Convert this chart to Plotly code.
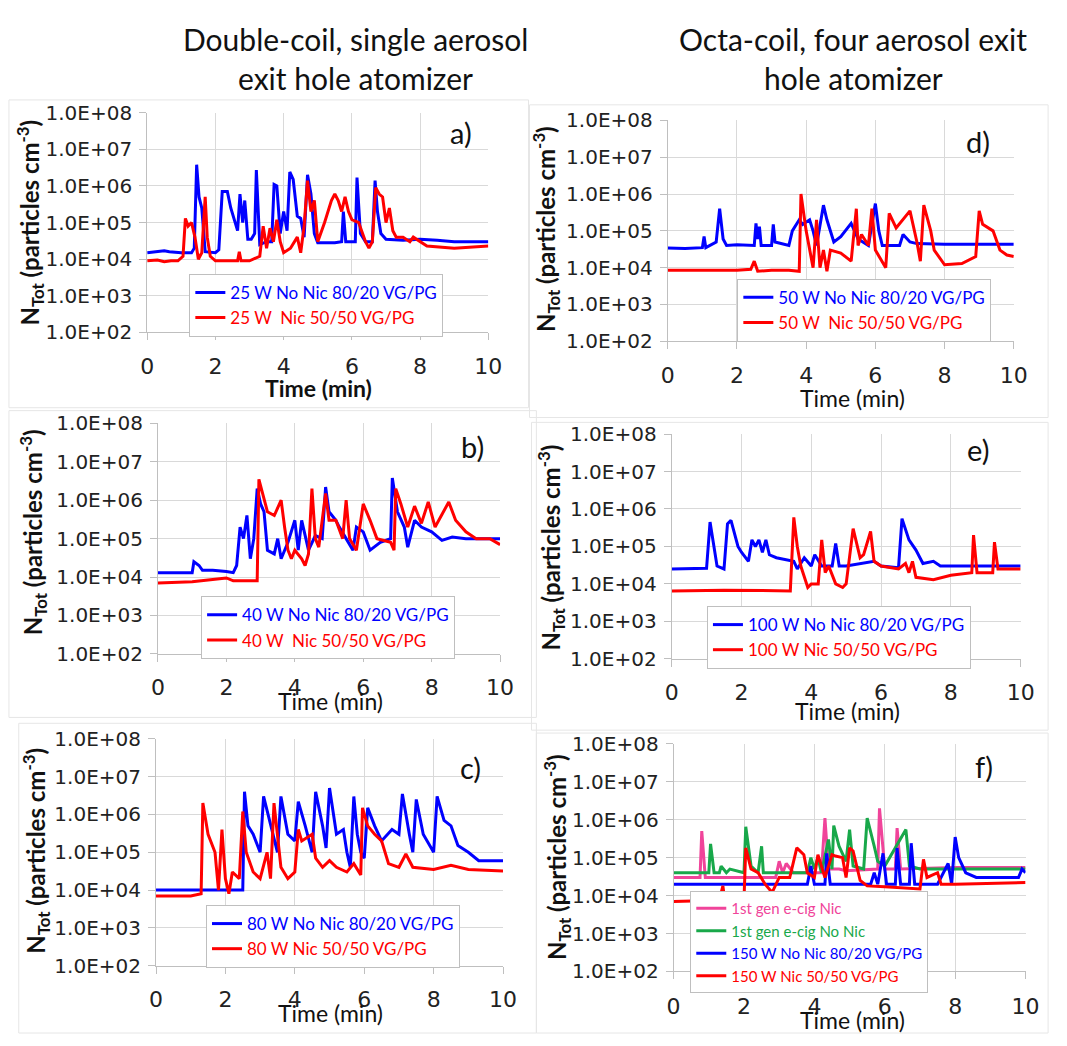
import plotly.graph_objects as go

W, H = 1067, 1046

# ---------------- data (time in min, N_Tot in particles cm^-3) ----------------
a_blue_t = [0, 0.2, 0.3, 0.5, 0.65, 0.8, 1.0, 1.3, 1.38, 1.45, 1.52, 1.6, 1.7, 2.0, 2.1, 2.2, 2.35, 2.45, 2.55, 2.65, 2.72, 2.8, 2.86, 2.95, 3.05, 3.15, 3.2, 3.3, 3.5, 3.65, 3.72, 3.8, 3.9, 4.0, 4.1, 4.18, 4.28, 4.4, 4.5, 4.6, 4.7, 4.8, 4.9, 5.0, 5.5, 5.7, 5.75, 5.82, 6.0, 6.1, 6.15, 6.25, 6.4, 6.6, 6.68, 6.75, 6.85, 7.0, 7.5, 8.0, 8.5, 9.0, 9.5, 10]
a_blue_v = [1.5e4, 1.55e4, 1.6e4, 1.7e4, 1.6e4, 1.55e4, 1.5e4, 1.5e4, 2e4, 3.8e6, 5e5, 2.5e5, 1.6e4, 1.5e4, 1.8e4, 7e5, 7e5, 2.5e5, 1.2e5, 6e4, 6e5, 1e5, 4e5, 3.5e4, 3.5e4, 5e4, 2.7e6, 2.5e4, 3e4, 3e4, 1.1e6, 1e6, 5e4, 2e5, 6e4, 2.4e6, 1.5e6, 1.5e5, 1.3e5, 4e4, 2e6, 6e5, 5e4, 2.8e4, 2.8e4, 3e4, 2e5, 3e4, 3e4, 3e4, 1.7e6, 5e4, 3e4, 3e4, 1.4e6, 2e5, 5e4, 3.5e4, 3.3e4, 3.5e4, 3.3e4, 3e4, 3e4, 3e4]
a_red_t = [0, 0.3, 0.5, 0.7, 0.9, 1.05, 1.12, 1.2, 1.3, 1.4, 1.5, 1.6, 1.7, 1.76, 1.85, 2.0, 2.5, 2.65, 2.7, 2.75, 3.0, 3.3, 3.4, 3.5, 3.6, 3.7, 3.8, 3.9, 4.0, 4.2, 4.4, 4.5, 4.6, 4.7, 4.8, 4.9, 5.0, 5.2, 5.4, 5.5, 5.6, 5.7, 5.8, 5.9, 6.0, 6.2, 6.4, 6.5, 6.6, 6.7, 6.8, 6.9, 7.0, 7.1, 7.2, 7.3, 7.5, 7.7, 7.8, 8.0, 8.2, 9.0, 10]
a_red_v = [9e3, 9.5e3, 8.5e3, 9e3, 9e3, 1.2e4, 1.3e5, 8e4, 1e5, 4e4, 1e4, 1.5e4, 5e5, 4e4, 1.2e4, 9e3, 9e3, 9e3, 1.6e4, 9e3, 9e3, 1.2e4, 8e4, 2e4, 7e4, 3e4, 1.2e5, 3e4, 1.5e4, 2e4, 4e4, 1.5e4, 8e4, 1.4e6, 2e5, 4e5, 3e4, 1e5, 4e5, 6e5, 4e5, 2e5, 5e5, 2e5, 1.2e5, 1e5, 3e4, 2e4, 3e4, 9e5, 6e5, 5e5, 1e5, 2.5e5, 6e4, 4e4, 4e4, 3e4, 4e4, 3e4, 2.3e4, 2e4, 2.3e4]

b_blue_t = [0, 0.5, 1.0, 1.05, 1.2, 1.3, 1.6, 2.0, 2.2, 2.3, 2.4, 2.5, 2.6, 2.7, 2.8, 2.9, 3.0, 3.1, 3.2, 3.4, 3.5, 3.6, 3.8, 4.0, 4.1, 4.2, 4.4, 4.6, 4.8, 4.9, 5.0, 5.2, 5.3, 5.5, 5.7, 5.8, 6.0, 6.2, 6.5, 6.8, 6.85, 7.0, 7.2, 7.3, 7.5, 7.7, 8.0, 8.3, 8.6, 9.0, 9.5, 10]
b_blue_v = [1.3e4, 1.3e4, 1.3e4, 2.5e4, 2e4, 1.5e4, 1.5e4, 1.4e4, 1.3e4, 2e4, 2e5, 1e5, 4e5, 3e4, 1e5, 2e6, 8e5, 5e5, 5e4, 4e4, 1e5, 3e4, 8e4, 3e5, 5e4, 3e5, 5e4, 1.2e5, 1e5, 2.2e6, 5e5, 3e5, 2e5, 1e5, 5e4, 2e5, 1.5e5, 5e4, 8e4, 1e5, 3.8e6, 5e5, 2e5, 6e4, 3e5, 2e5, 1.5e5, 9e4, 1.1e5, 1e5, 1e5, 1e5]
b_red_t = [0, 1.0, 1.8, 2.0, 2.2, 2.5, 2.9, 2.95, 3.1, 3.2, 3.4, 3.6, 3.7, 3.8, 3.9, 4.0, 4.2, 4.3, 4.4, 4.5, 4.6, 4.7, 4.9, 5.0, 5.2, 5.4, 5.5, 5.6, 5.8, 6.0, 6.2, 6.4, 6.8, 6.9, 6.95, 7.1, 7.3, 7.5, 7.7, 7.9, 8.1, 8.5, 8.7, 9.0, 9.3, 9.7, 10]
b_red_v = [7e3, 7.5e3, 9e3, 9.5e3, 8e3, 8e3, 8e3, 3.5e6, 1e6, 5e5, 4e5, 1e6, 2e5, 5e4, 3e4, 5e4, 3e4, 2e4, 4e4, 2e6, 1e5, 6e4, 1.5e6, 3e5, 3e5, 1e5, 1e6, 1e5, 5e4, 8e5, 3e5, 1e5, 8e4, 5e4, 2e6, 8e5, 2e5, 7e5, 2.5e5, 9e5, 2e5, 9e5, 3e5, 1.5e5, 1e5, 1e5, 7e4]

c_blue_t = [0, 1.0, 2.0, 2.5, 2.55, 2.65, 2.8, 3.0, 3.1, 3.3, 3.5, 3.6, 3.8, 4.0, 4.1, 4.3, 4.5, 4.6, 4.8, 4.9, 5.0, 5.2, 5.4, 5.5, 5.6, 5.7, 5.8, 5.9, 6.0, 6.1, 6.3, 6.5, 6.8, 7.0, 7.1, 7.3, 7.4, 7.5, 7.7, 8.0, 8.1, 8.3, 8.5, 8.7, 9.0, 9.3, 9.6, 10]
c_blue_v = [1e4, 1e4, 1e4, 1e4, 4e6, 5e5, 3e5, 1e5, 3e6, 5e5, 1e5, 3e6, 3e5, 2e5, 2.2e6, 5e5, 1e5, 4e6, 5e5, 1.3e5, 5e6, 3e5, 4e5, 1e5, 4e4, 3e6, 3e5, 1e5, 7e4, 1.5e6, 5e5, 2e5, 4e5, 3e5, 3.5e6, 3e5, 1e5, 2.5e6, 3e5, 1e5, 3e6, 7e5, 5e5, 1.5e5, 1e5, 6e4, 6e4, 6e4]
c_red_t = [0, 1.0, 1.3, 1.35, 1.5, 1.7, 1.8, 1.9, 2.0, 2.1, 2.2, 2.4, 2.5, 2.6, 2.8, 3.0, 3.2, 3.3, 3.4, 3.5, 3.6, 3.8, 4.0, 4.1, 4.2, 4.5, 4.6, 4.8, 5.0, 5.2, 5.5, 5.7, 5.9, 5.95, 6.1, 6.3, 6.5, 6.7, 7.0, 7.2, 7.4, 8.0, 8.5, 9.0, 10]
c_red_v = [7e3, 7e3, 8e3, 2e6, 3e5, 1e5, 1e4, 4e5, 2e4, 8e3, 3e4, 2e4, 1.2e6, 1e5, 3e4, 2e4, 1e5, 2e4, 2e6, 3e5, 4e4, 2e4, 3e4, 4e5, 2e5, 3e5, 7e4, 4e4, 6e4, 4e4, 3e4, 5e4, 2.5e4, 1.5e6, 5e5, 3e5, 2e5, 5e4, 4e4, 9e4, 4e4, 3.5e4, 4.5e4, 3.5e4, 3.2e4]

d_blue_t = [0, 0.5, 1.0, 1.05, 1.1, 1.4, 1.5, 1.6, 1.7, 2.0, 2.5, 2.55, 2.6, 2.65, 2.7, 3.0, 3.05, 3.1, 3.5, 3.6, 3.8, 3.9, 4.1, 4.2, 4.3, 4.5, 4.6, 4.7, 4.8, 5.0, 5.3, 5.5, 5.8, 6.0, 6.1, 6.2, 6.7, 6.8, 7.0, 7.2, 8.0, 9.0, 10]
d_blue_v = [3.4e4, 3.3e4, 3.5e4, 7e4, 3.5e4, 5e4, 4e5, 6e4, 4e4, 4.2e4, 4e4, 1.6e5, 6e4, 1.3e5, 4e4, 4e4, 1.5e5, 5e4, 4e4, 1e5, 2e5, 1.5e5, 2e5, 1e5, 4e4, 5e5, 2e5, 1e5, 5e4, 7e4, 1.6e5, 6e4, 4e4, 5.5e5, 1e5, 4e4, 4e4, 8e4, 5e4, 4.5e4, 4.3e4, 4.3e4, 4.3e4]
d_red_t = [0, 1.0, 2.0, 2.4, 2.5, 2.6, 3.0, 3.5, 3.8, 3.85, 4.0, 4.2, 4.3, 4.4, 4.5, 4.6, 4.7, 5.0, 5.3, 5.45, 5.5, 5.6, 5.8, 5.9, 6.0, 6.3, 6.4, 6.6, 6.8, 7.0, 7.2, 7.3, 7.4, 7.6, 7.7, 8.0, 8.5, 8.9, 9.0, 9.1, 9.4, 9.6, 9.8, 10]
d_red_v = [8.5e3, 8.5e3, 8.5e3, 9e3, 1.5e4, 8e3, 8.5e3, 8.5e3, 8e3, 1e6, 1e5, 1e4, 2e5, 1e4, 3e4, 8e3, 3e4, 2.5e4, 1.5e4, 4e5, 4e4, 8e4, 4e4, 4e5, 3e4, 1e4, 3e5, 1.2e5, 2e5, 3.5e5, 5e4, 1.5e4, 5e5, 1e5, 3e4, 1.2e4, 1.3e4, 2e4, 3.5e5, 1.5e5, 1e5, 3e4, 2.2e4, 2e4]

e_blue_t = [0, 0.5, 1.0, 1.1, 1.2, 1.3, 1.5, 1.6, 1.7, 1.9, 2.0, 2.2, 2.3, 2.4, 2.5, 2.6, 2.7, 2.8, 3.0, 3.5, 3.6, 3.8, 4.0, 4.1, 4.3, 4.6, 4.7, 4.8, 5.0, 5.5, 5.8, 6.0, 6.5, 6.6, 6.8, 7.0, 7.2, 7.5, 7.7, 8.5, 9.5, 10]
e_blue_v = [2.5e4, 2.5e4, 2.6e4, 4.5e5, 1e5, 3e4, 2.5e4, 4e5, 5e5, 1e5, 7e4, 4e4, 1.5e5, 1e5, 1.5e5, 7e4, 1.5e5, 6e4, 5e4, 4e4, 2.5e4, 5e4, 3e4, 6e4, 3e4, 3e4, 1.2e5, 3e4, 3e4, 3.5e4, 4e4, 3e4, 2.7e4, 5.5e5, 1.5e5, 8e4, 3.5e4, 4e4, 3e4, 3e4, 3e4, 3e4]
e_red_t = [0, 1.5, 3.4, 3.5, 3.6, 3.7, 3.9, 4.0, 4.2, 4.3, 4.4, 4.5, 4.7, 4.9, 5.0, 5.2, 5.4, 5.5, 5.7, 5.8, 6.0, 6.5, 6.7, 6.8, 6.9, 7.0, 7.5, 8.0, 8.6, 8.65, 8.75, 9.2, 9.25, 9.35, 10]
e_red_v = [6.5e3, 6.8e3, 6.5e3, 6e5, 1e5, 3e4, 8e3, 1e4, 1e4, 1.5e5, 2e4, 3e4, 1e4, 8e3, 1e4, 3e5, 5e4, 6e4, 2.5e5, 4e4, 3e4, 2.5e4, 3.5e4, 2e4, 4e4, 1.5e4, 1.3e4, 1.7e4, 2e4, 2e5, 2e4, 2e4, 1.3e5, 2.5e4, 2.5e4]

f_pink_t = [0, 0.75, 0.8, 0.9, 2.0, 2.9, 3.0, 3.1, 3.2, 3.4, 4.2, 4.3, 4.4, 4.7, 4.9, 5.8, 5.85, 5.95, 6.0, 6.3, 6.35, 6.45, 8.0, 10]
f_pink_v = [3e4, 3e4, 5e5, 3e4, 3e4, 3e4, 8e4, 4e4, 7e4, 4e4, 4e4, 1.1e6, 5e4, 5e4, 4.5e4, 5e4, 2e6, 2e5, 5e4, 5e4, 6e5, 5e4, 5.5e4, 5.5e4]
f_green_t = [0, 1.0, 1.05, 1.15, 1.3, 1.35, 1.5, 1.6, 2.0, 2.05, 2.2, 2.4, 2.5, 2.55, 3.8, 3.9, 4.0, 4.1, 4.2, 4.4, 4.5, 4.55, 4.7, 4.9, 5.0, 5.1, 5.4, 5.5, 5.7, 5.8, 6.0, 6.6, 6.7, 7.0, 10]
f_green_v = [4e4, 4e4, 2.3e5, 4e4, 4e4, 6e4, 4e4, 5e4, 4e4, 6.5e5, 6e4, 4e4, 2e5, 4e4, 4e4, 1e5, 5e4, 1e5, 4e4, 3e5, 5e4, 7e5, 2e5, 8e4, 5.5e5, 6e4, 5e4, 1.1e6, 2e5, 8e4, 6e4, 5.5e5, 6e4, 5e4, 5e4]
f_blue_t = [0, 3.8, 3.9, 4.0, 4.3, 4.35, 4.45, 5.6, 5.7, 5.8, 5.95, 6.05, 6.3, 6.35, 6.45, 6.7, 6.75, 6.85, 7.5, 7.8, 7.9, 8.0, 8.1, 8.3, 8.6, 9.0, 9.8, 9.9, 10]
f_blue_v = [2e4, 2e4, 6e4, 2e4, 2e4, 1.3e5, 2e4, 2e4, 4e4, 2e4, 1.3e5, 2e4, 2e4, 1.8e5, 2e4, 2e4, 2.4e5, 2e4, 2e4, 7e4, 2e4, 3.5e5, 1e5, 4e4, 3e4, 3e4, 3e4, 5e4, 4e4]
f_red_t = [0, 1.3, 1.4, 1.45, 2.0, 2.05, 2.2, 2.4, 2.6, 2.8, 3.0, 3.3, 3.5, 3.7, 3.8, 4.0, 4.1, 4.3, 4.5, 4.6, 4.8, 4.9, 5.0, 5.1, 5.3, 5.5, 6.0, 7.0, 7.1, 7.2, 7.5, 7.6, 8.0, 10]
f_red_v = [7e3, 7.5e3, 1.8e4, 8e3, 8e3, 1.8e5, 5e4, 4e4, 2e4, 1.2e4, 3e4, 3e4, 1.8e5, 1.2e5, 4e4, 3e4, 1.2e5, 3e4, 1.2e5, 1.1e5, 1e5, 3e4, 1.8e5, 1.5e5, 2.5e4, 1.8e4, 1.7e4, 1.5e4, 9e4, 3e4, 4e4, 2e4, 2e4, 2.2e4]

y_tickvals = [1e2, 1e3, 1e4, 1e5, 1e6, 1e7, 1e8]
y_ticktext = ["1.0E+02", "1.0E+03", "1.0E+04", "1.0E+05", "1.0E+06", "1.0E+07", "1.0E+08"]
x_tickvals = [0, 2, 4, 6, 8, 10]

BLUE, RED, PINK, GREEN = "#0000ff", "#ff0000", "#f0449a", "#18a84a"
FONT = "Lato"
TICKFONT = "DejaVu Sans"

# panel plot areas in pixels: x0, x1, ytop, ybottom
panels = {
    1: (143, 491, 103, 328),   # a
    2: (154, 503, 421, 657),   # b
    3: (152, 506, 744, 976),   # c
    4: (674, 1027, 111, 337),  # d
    5: (678, 1034, 432, 662),  # e
    6: (680, 1039, 749, 982),  # f
}

series = [
    (1, a_blue_t, a_blue_v, BLUE, "25 W No Nic 80/20 VG/PG"),
    (1, a_red_t, a_red_v, RED, "25 W  Nic 50/50 VG/PG"),
    (2, b_blue_t, b_blue_v, BLUE, "40 W No Nic 80/20 VG/PG"),
    (2, b_red_t, b_red_v, RED, "40 W  Nic 50/50 VG/PG"),
    (3, c_blue_t, c_blue_v, BLUE, "80 W No Nic 80/20 VG/PG"),
    (3, c_red_t, c_red_v, RED, "80 W Nic 50/50 VG/PG"),
    (4, d_blue_t, d_blue_v, BLUE, "50 W No Nic 80/20 VG/PG"),
    (4, d_red_t, d_red_v, RED, "50 W  Nic 50/50 VG/PG"),
    (5, e_blue_t, e_blue_v, BLUE, "100 W No Nic 80/20 VG/PG"),
    (5, e_red_t, e_red_v, RED, "100 W Nic 50/50 VG/PG"),
    (6, f_pink_t, f_pink_v, PINK, "1st gen e-cig Nic"),
    (6, f_green_t, f_green_v, GREEN, "1st gen e-cig No Nic"),
    (6, f_blue_t, f_blue_v, BLUE, "150 W No Nic 80/20 VG/PG"),
    (6, f_red_t, f_red_v, RED, "150 W Nic 50/50 VG/PG"),
]

def px(x):
    return x / W

def py(y):
    return 1 - y / H

fig = go.Figure()
for p, t, v, col, name in series:
    sfx = "" if p == 1 else str(p)
    fig.add_trace(go.Scatter(
        x=t, y=v, mode="lines", line=dict(color=col, width=3),
        name=f'<span style="color:{col}">{name}</span>',
        xaxis="x" + sfx, yaxis="y" + sfx, legend="legend" + sfx,
    ))

layout = dict(
    width=W, height=H, margin=dict(l=0, r=0, t=0, b=0),
    paper_bgcolor="white", plot_bgcolor="white",
    font=dict(family=FONT, size=18, color="#222222"),
    showlegend=True,
)

# legend boxes (left px, anchor y px, anchor side, font size)
legend_pos = {1: (186, 268, "top", 17), 2: (198, 598, "top", 17), 3: (203, 914, "top", 17),
              4: (745, 273, "top", 17), 5: (714, 608, "top", 17), 6: (697, 1004, "bottom", 15)}
standoff = {1: 7, 2: 7, 3: 7, 4: 7, 5: 7, 6: 8}

for p, (x0, x1, yt, yb) in panels.items():
    sfx = "" if p == 1 else str(p)
    layout["xaxis" + sfx] = dict(
        domain=[px(x0), px(x1)], anchor="y" + sfx, range=[0, 10],
        tickvals=x_tickvals, showgrid=True, gridcolor="#d9d9d9", gridwidth=1,
        ticks="outside", ticklen=7, tickcolor="#bfbfbf", showline=True,
        linecolor="#bfbfbf", zeroline=False,
        tickfont=dict(size=22, family=TICKFONT, color="#222222"),
        ticklabelstandoff=standoff[p],
    )
    layout["yaxis" + sfx] = dict(
        domain=[py(yb), py(yt)], anchor="x" + sfx, type="log", range=[2, 8],
        tickvals=y_tickvals, ticktext=y_ticktext, showgrid=True,
        gridcolor="#d9d9d9", gridwidth=1, ticks="outside", ticklen=7,
        tickcolor="#bfbfbf", showline=True, linecolor="#bfbfbf",
        zeroline=False, tickfont=dict(size=20, family=TICKFONT, color="#222222"),
        ticklabelstandoff=3,
    )
    lx, ly, anc, fs = legend_pos[p]
    layout["legend" + sfx] = dict(
        x=px(lx), y=py(ly), xanchor="left", yanchor=anc,
        xref="paper", yref="paper",
        bgcolor="white", bordercolor="#bfbfbf", borderwidth=1,
        font=dict(size=fs, family=FONT), tracegroupgap=0,
    )

fig.update_layout(**layout)

ann = []
# column titles
for txt, x, y in [("Double-coil, single aerosol", 356, 28), ("exit hole atomizer", 356, 68),
                  ("Octa-coil, four aerosol exit", 863, 28), ("hole atomizer", 863, 68)]:
    ann.append(dict(text=txt, x=px(x), y=py(y), xref="paper", yref="paper",
                    showarrow=False, xanchor="center", yanchor="middle",
                    font=dict(size=30, family=FONT, color="#111111")))

# panel letters
letters = [("a)", 463, 123), ("b)", 475, 445), ("c)", 473, 773),
           ("d)", 990, 133), ("e)", 990, 448), ("f)", 997, 772)]
for txt, x, y in letters:
    ann.append(dict(text=txt, x=px(x), y=py(y), xref="paper", yref="paper",
                    showarrow=False, xanchor="center", yanchor="middle",
                    font=dict(size=29, family=FONT, color="#111111")))

# x axis titles
xtitles = [(1, 318, 385, True), (2, 330, 705, False), (3, 330, 1025, False),
           (4, 862, 395, False), (5, 857, 715, False), (6, 862, 1032, False)]
for p, x, y, bold in xtitles:
    t = "<b>Time (min)</b>" if bold else "Time (min)"
    ann.append(dict(text=t, x=px(x), y=py(y), xref="paper", yref="paper",
                    showarrow=False, xanchor="center", yanchor="middle",
                    font=dict(size=23, family=FONT, color="#111111")))

# y axis titles
ytitles = [(23, 216), (26, 532), (30, 858), (550, 222), (555, 548), (561, 865)]
for x, y in ytitles:
    ann.append(dict(text="<b>N<sub>Tot</sub> (particles cm<sup>-3</sup>)</b>",
                    x=px(x), y=py(y), xref="paper", yref="paper", textangle=-90,
                    showarrow=False, xanchor="center", yanchor="middle",
                    font=dict(size=24, family=FONT, color="#111111")))

fig.update_layout(annotations=ann)

# faint chart-area borders
boxes = [(2, 90, 532, 405), (2, 408, 540, 722), (12, 728, 540, 1045),
         (533, 95, 1062, 415), (535, 420, 1062, 735), (540, 738, 1062, 1045)]
shapes = []
for x0, y0, x1, y1 in boxes:
    shapes.append(dict(type="rect", xref="paper", yref="paper",
                       x0=px(x0), x1=px(x1), y0=py(y1), y1=py(y0),
                       line=dict(color="#e6e6e6", width=1), layer="below"))
fig.update_layout(shapes=shapes)

fig.write_html("out.html")
